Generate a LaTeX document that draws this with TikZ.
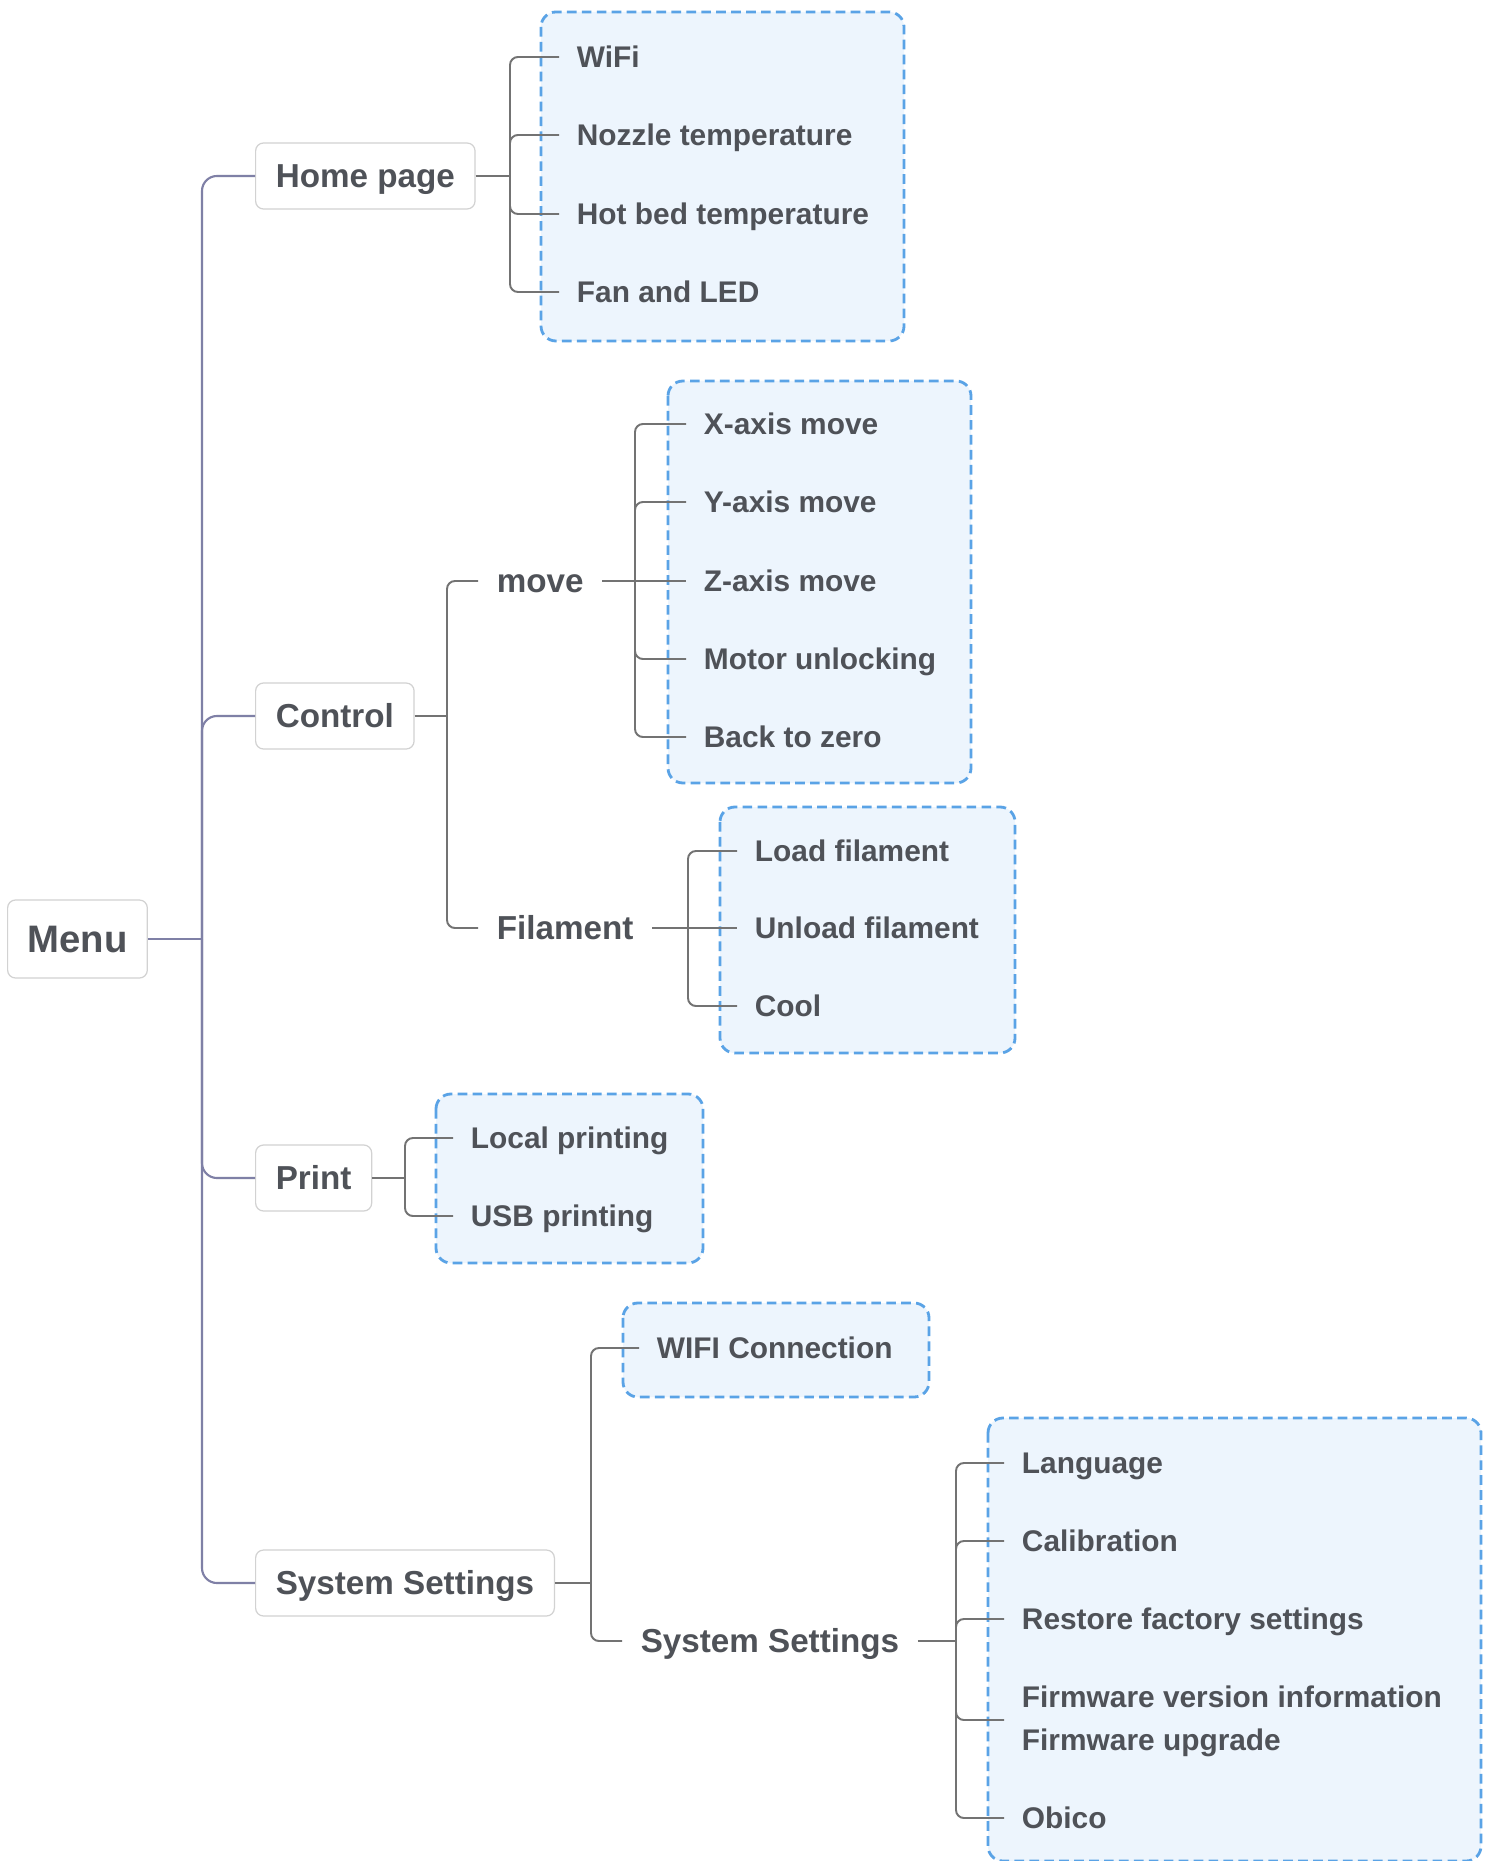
\documentclass[tikz,border=0pt]{standalone}
\usepackage{fontspec}
\setmainfont{Liberation Sans}
\usetikzlibrary{backgrounds}
\definecolor{menutext}{HTML}{4F5258}
\definecolor{menutrunk}{HTML}{7F80A6}
\definecolor{menuline}{HTML}{737373}
\definecolor{menuframe}{HTML}{D2D2D2}
\definecolor{groupblue}{HTML}{5AA3E6}
\definecolor{groupfill}{HTML}{EDF5FD}

\tikzset{
  rootbox/.style={draw=menuframe, line width=0.7pt, fill=white, rounded corners=4.5pt,
    anchor=west, inner xsep=11.3pt, minimum height=1.56cm, text=menutext,
    font=\fontsize{21.8}{26}\selectfont\bfseries, text height=21.1pt, text depth=5.4pt},
  topbox/.style={draw=menuframe, line width=0.7pt, fill=white, rounded corners=4.5pt,
    anchor=west, inner xsep=11.5pt, minimum height=1.32cm, text=menutext,
    font=\fontsize{18.9}{22}\selectfont\bfseries, text height=18.3pt, text depth=4.7pt},
  sublabel/.style={anchor=west, inner xsep=10.5pt, text=menutext,
    font=\fontsize{18.9}{22}\selectfont\bfseries, text height=18.3pt, text depth=4.7pt},
  leaf/.style={anchor=west, inner xsep=10pt, text=menutext,
    font=\fontsize{17}{24.4}\selectfont\bfseries, text height=16.4pt, text depth=4.2pt},
  trunk/.style={draw=menutrunk, line width=1.2pt},
  branch/.style={draw=menuline, line width=1.1pt},
  group/.style={draw=groupblue, fill=groupfill, line width=1.6pt,
    dash pattern=on 5.5pt off 3pt, rounded corners=8.5pt}
}

\begin{document}
\begin{tikzpicture}[x=0.02cm, y=-0.02cm]
  \useasboundingbox (0,0) rectangle (1494,1861);

  % level one
  \node[rootbox] (menu) at (7,939) {Menu};
  \node[topbox] (home) at (255,176) {Home page};
  \node[topbox] (control) at (255,716) {Control};
  \node[topbox] (print) at (255,1178) {Print};
  \node[topbox] (settings) at (255,1583) {System Settings};

  % home page
  \node[leaf] (wifi) at (559,57) {WiFi};
  \node[leaf] (nozzle) at (559,135) {Nozzle temperature};
  \node[leaf] (hotbed) at (559,214) {Hot bed temperature};
  \node[leaf] (fanled) at (559,292) {Fan and LED};

  % control
  \node[sublabel] (move) at (478,581) {move};
  \node[sublabel] (filament) at (478,928) {Filament};
  \node[leaf] (xmove) at (686,424) {X-axis move};
  \node[leaf] (ymove) at (686,502) {Y-axis move};
  \node[leaf] (zmove) at (686,581) {Z-axis move};
  \node[leaf] (unlock) at (686,659) {Motor unlocking};
  \node[leaf] (zero) at (686,737) {Back to zero};
  \node[leaf] (load) at (737,851) {Load filament};
  \node[leaf] (unload) at (737,928) {Unload filament};
  \node[leaf] (cool) at (737,1006) {Cool};

  % print
  \node[leaf] (local) at (453,1138) {Local printing};
  \node[leaf] (usb) at (453,1216) {USB printing};

  % system settings
  \node[leaf] (wificonn) at (639,1348) {WIFI Connection};
  \node[sublabel] (subsettings) at (622,1641) {System Settings};
  \node[leaf] (language) at (1004,1463) {Language};
  \node[leaf] (calib) at (1004,1541) {Calibration};
  \node[leaf] (restore) at (1004,1619) {Restore factory settings};
  \node[leaf, align=left] (firmware) at (1004,1740)
    {Firmware version information\\Firmware upgrade};
  \coordinate (fwstub) at (1004,1720);
  \node[leaf] (obico) at (1004,1818) {Obico};

  % dashed groups
  \begin{scope}[on background layer]
    \fill[white] (0,0) rectangle (1494,1861);
    \draw[group] (541,12) rectangle (904,341);
    \draw[group] (668,381) rectangle (971,783);
    \draw[group] (720,807) rectangle (1015,1053);
    \draw[group] (436,1094) rectangle (703,1263);
    \draw[group] (623,1303) rectangle (929,1397);
    \draw[group] (988,1418) rectangle (1481,1861);
  \end{scope}

  % joints
  \coordinate (mj) at (202,939);
  \coordinate (hj) at (510,176);
  \coordinate (cj) at (447,716);
  \coordinate (mvj) at (635,581);
  \coordinate (fj) at (688,928);
  \coordinate (pj) at (405,1178);
  \coordinate (sj) at (591,1583);
  \coordinate (ssj) at (956,1641);

  \draw[trunk] (menu.east) -- (mj);
  \foreach \n in {home,control,print,settings}
    \draw[trunk, rounded corners=8.5pt] (mj) |- (\n.west);

  \draw[branch] (home.east) -- (hj);
  \foreach \n in {wifi,nozzle,hotbed,fanled}
    \draw[branch, rounded corners=4.5pt] (hj) |- (\n.west);

  \draw[branch] (control.east) -- (cj);
  \foreach \n in {move,filament}
    \draw[branch, rounded corners=4.5pt] (cj) |- (\n.west);

  \draw[branch] (move.east) -- (mvj) -- (zmove.west);
  \foreach \n in {xmove,ymove,unlock,zero}
    \draw[branch, rounded corners=4.5pt] (mvj) |- (\n.west);

  \draw[branch] (filament.east) -- (fj) -- (unload.west);
  \foreach \n in {load,cool}
    \draw[branch, rounded corners=4.5pt] (fj) |- (\n.west);

  \draw[branch] (print.east) -- (pj);
  \foreach \n in {local,usb}
    \draw[branch, rounded corners=4.5pt] (pj) |- (\n.west);

  \draw[branch] (settings.east) -- (sj);
  \foreach \n in {wificonn,subsettings}
    \draw[branch, rounded corners=4.5pt] (sj) |- (\n.west);

  \draw[branch] (subsettings.east) -- (ssj);
  \foreach \n in {language,calib,restore,obico}
    \draw[branch, rounded corners=4.5pt] (ssj) |- (\n.west);
  \draw[branch, rounded corners=4.5pt] (ssj) |- (fwstub);
\end{tikzpicture}
\end{document}
